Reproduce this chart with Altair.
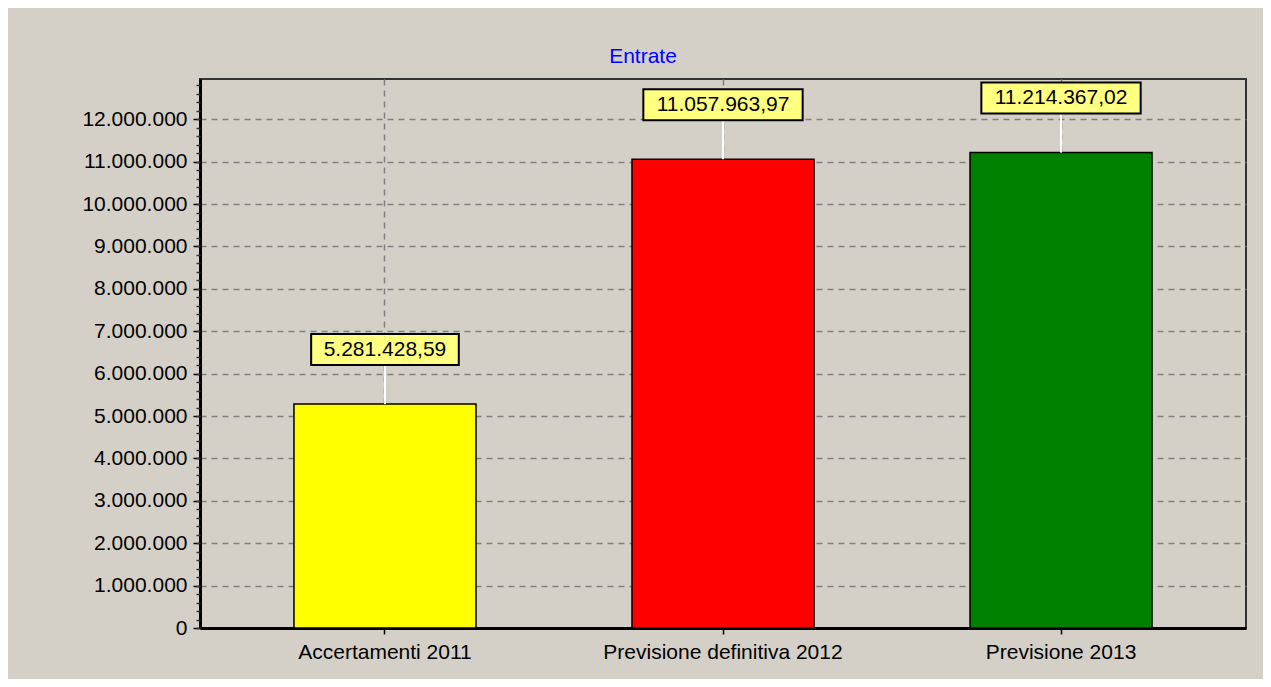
import altair as alt
import pandas as pd

# ---- data ----
categories = ["Accertamenti 2011", "Previsione definitiva 2012", "Previsione 2013"]
values = [5281428.59, 11057963.97, 11214367.02]
colors = ["#FFFF00", "#FF0000", "#008000"]
major_ticks = list(range(0, 12000001, 1000000))
minor_ticks = list(range(0, 12900001, 200000))

# ---- layout ----
PLOT_W, PLOT_H = 1046, 549
Y_MAX = 12950000
PX = PLOT_H / Y_MAX  # pixels per unit
FONT = "Liberation Sans"
BG = "#D4D0C8"


def it_fmt(v):
    s = f"{v:,.2f}"
    return s.replace(",", "X").replace(".", ",").replace("X", ".")


def text_w(s):
    return sum(5.84 if c in ".," else 11.68 for c in s)


df = pd.DataFrame({"cat": categories, "value": values, "color": colors})
df["label"] = [it_fmt(v) for v in values]
df["box_lo"] = df["value"] + 39 / PX
df["box_hi"] = df["value"] + 70 / PX
df["box_w"] = [text_w(s) + 25 for s in df["label"]]

xscale = alt.Scale(domain=categories, paddingInner=0.4615, paddingOuter=0.278)
yscale = alt.Scale(domain=[0, Y_MAX], nice=False, zero=True)

xaxis = alt.Axis(
    title=None, labelFont=FONT, labelFontSize=21, labelColor="black",
    labelPadding=7, labelLimit=0, tickSize=6, tickColor="black", tickWidth=1.5,
    domainColor="black", domainWidth=3, grid=True, gridDash=[6, 5],
    gridColor="#808080", gridWidth=1.5, labelAngle=0, bandPosition=0.5,
)
X = alt.X("cat:N", sort=categories, scale=xscale, axis=xaxis)

yaxis = alt.Axis(
    title=None, values=major_ticks,
    labelExpr="replace(format(datum.value, ','), regexp(',', 'g'), '.')",
    labelFont=FONT, labelFontSize=21, labelColor="black", labelPadding=6,
    tickSize=7, tickColor="black", tickWidth=1.5,
    domainColor="black", domainWidth=3, grid=True, gridDash=[6, 5],
    gridColor="#808080", gridWidth=1.5,
)
minor_axis = alt.Axis(
    title=None, values=minor_ticks, labels=False, orient="left",
    tickSize=4, tickColor="#333333", tickWidth=1.5, domain=False, grid=False,
)

base = alt.Chart(df)

bars = base.mark_bar(stroke="black", strokeWidth=1.5).encode(
    x=X,
    y=alt.Y("value:Q", scale=yscale, axis=yaxis),
    color=alt.Color("color:N", scale=None),
)

connector = base.mark_rule(color="white", strokeWidth=2).encode(
    x=X,
    y=alt.Y("value:Q", scale=yscale, axis=minor_axis),
    y2="box_lo:Q",
)

boxes = base.mark_bar(color="#FFFF80", stroke="black", strokeWidth=2).encode(
    x=X,
    y=alt.Y("box_lo:Q", scale=yscale, axis=None),
    y2="box_hi:Q",
    size=alt.Size("box_w:Q", scale=None, legend=None),
)

texts = base.mark_text(
    font=FONT, fontSize=21, color="black", baseline="middle", dy=-54.5
).encode(
    x=X,
    y=alt.Y("value:Q", scale=yscale, axis=None),
    text="label:N",
)

chart = (
    alt.layer(bars, connector, boxes, texts)
    .resolve_axis(y="independent")
    .properties(
        width=PLOT_W,
        height=PLOT_H,
        autosize=alt.AutoSizeParams(type="none"),
        padding={"left": 192, "top": 71, "right": 17, "bottom": 51},
        background=BG,
        title=alt.TitleParams(
            "Entrate", color="#0000FF", fontSize=21, font=FONT,
            fontWeight="normal", anchor="middle", dx=-80, dy=21, offset=16,
            baseline="alphabetic", frame="group",
        ),
    )
    .configure_view(stroke="#333333", strokeWidth=2)
)

chart.save("out.html", embed_options={"renderer": "svg", "actions": False})
